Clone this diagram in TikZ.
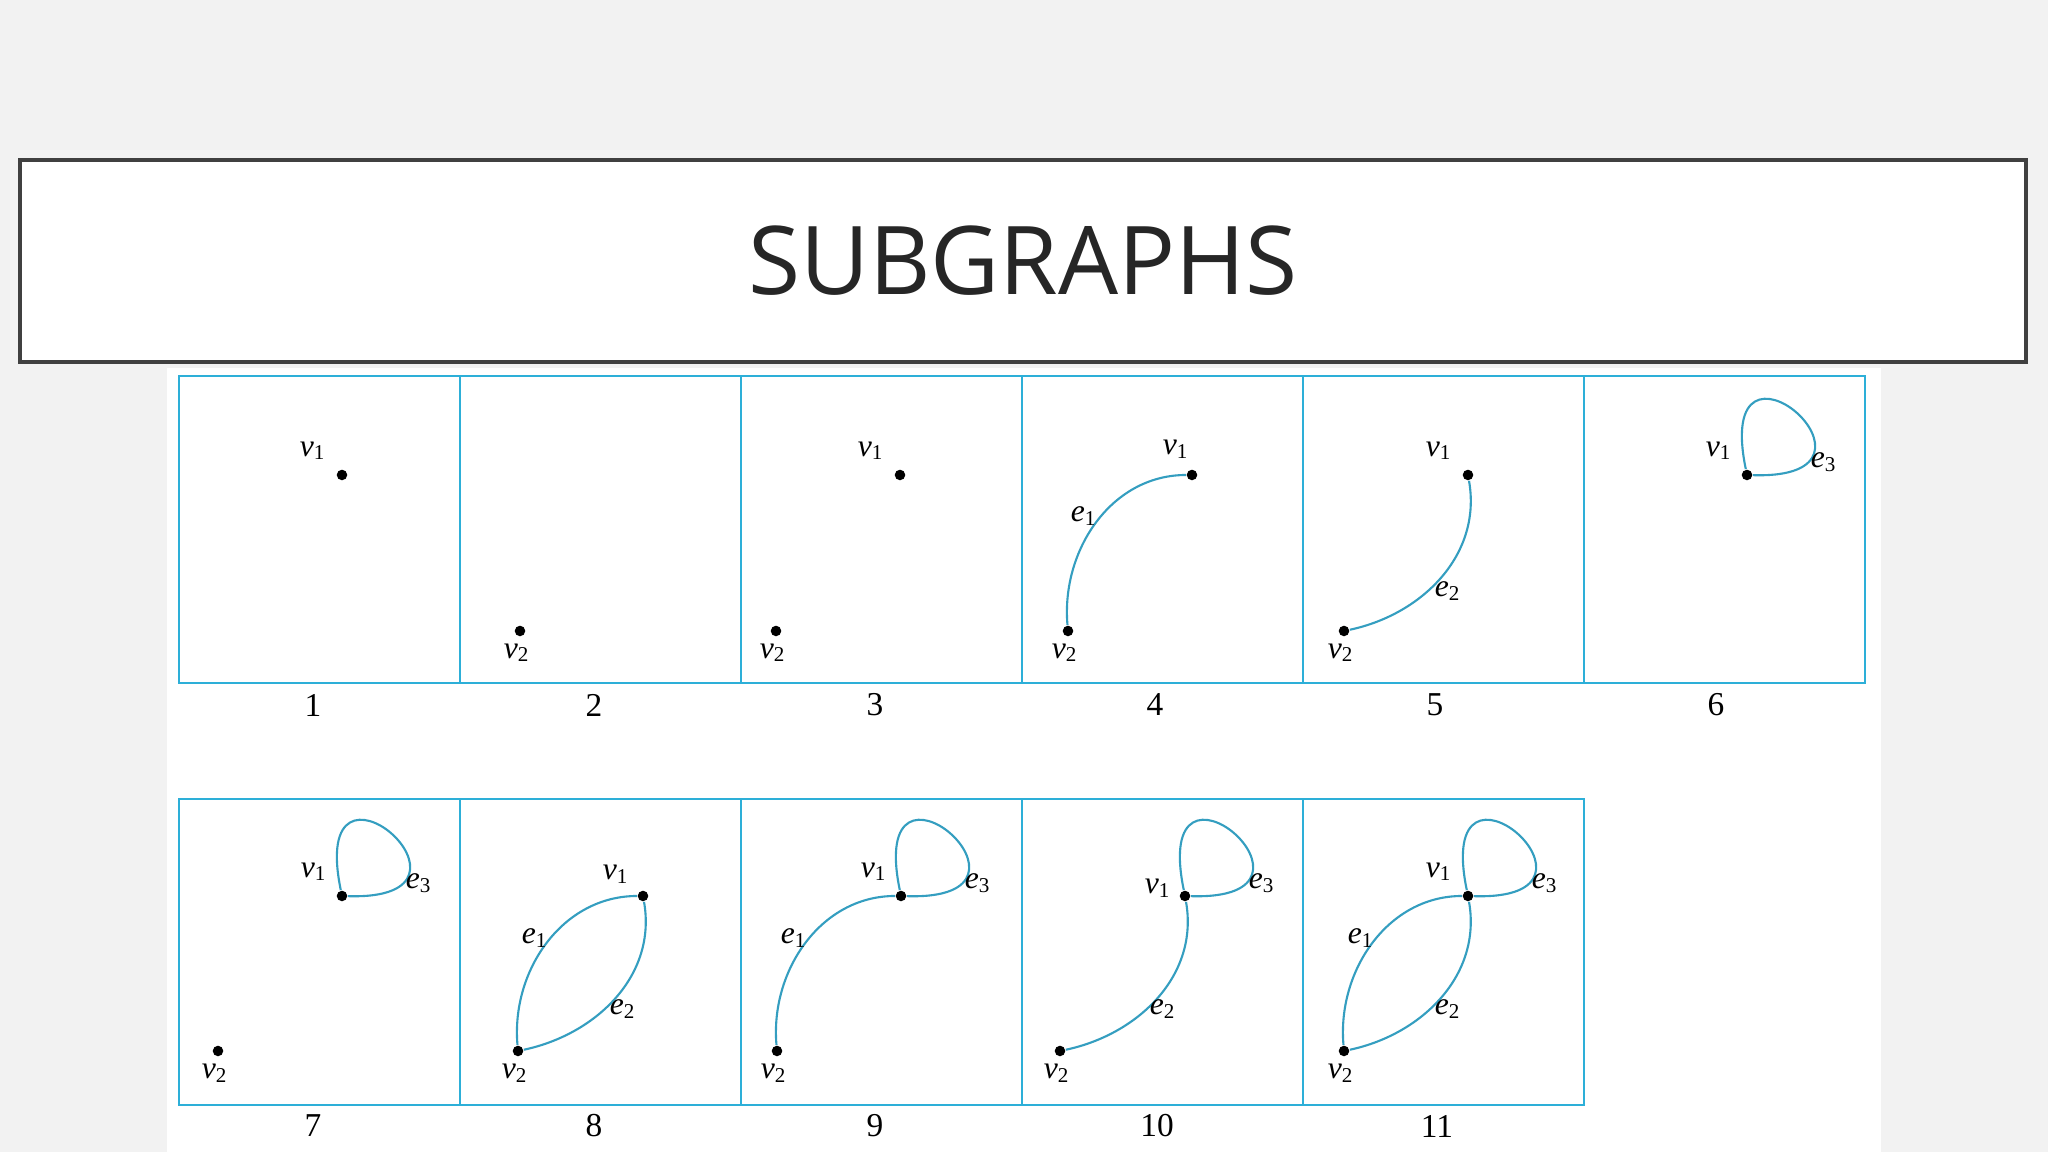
\documentclass[tikz,border=0pt]{standalone}
\usepackage{fontspec}
\setmainfont{Liberation Serif}
\newfontfamily\titlefont{Open Sans}
\definecolor{framec}{RGB}{45,175,216}
\definecolor{edgec}{RGB}{52,158,192}
\definecolor{boxc}{RGB}{64,64,64}
\definecolor{bgc}{RGB}{242,242,242}
\newcommand{\vlab}[1]{\textit{v}\textsubscript{#1}}
\newcommand{\elab}[1]{\textit{e}\textsubscript{#1}}
\tikzset{
  frame/.style={draw=framec,line width=0.8pt},
  dot/.style={circle,fill=black,inner sep=0pt,minimum size=3pt},
  edge/.style={draw=edgec,line width=0.6pt},
  lbl/.style={inner sep=0pt,font=\fontsize{9}{10}\selectfont},
  num/.style={inner sep=0pt,font=\fontsize{9.5}{10}\selectfont},
  titlebox/.style={draw=boxc,line width=1.4pt,fill=white,minimum width=20.06cm,
    minimum height=2.02cm,inner sep=0pt,text=black!85,font=\titlefont\fontsize{27}{30}\selectfont}
}
\begin{document}
\begin{tikzpicture}
\fill[bgc] (0,0) rectangle (20.48,11.52);
\useasboundingbox (0,0) rectangle (20.48,11.52);
\node[titlebox] (title) at (10.23,8.91) {SUBGRAPHS};
\fill[white] (1.67,0) rectangle (18.81,7.84);

% frames, top row
\draw[frame] (1.79,4.69) rectangle (4.60,7.76);
\draw[frame] (4.60,4.69) rectangle (7.41,7.76);
\draw[frame] (7.41,4.69) rectangle (10.22,7.76);
\draw[frame] (10.22,4.69) rectangle (13.03,7.76);
\draw[frame] (13.03,4.69) rectangle (15.84,7.76);
\draw[frame] (15.84,4.69) rectangle (18.65,7.76);
% frames, bottom row
\draw[frame] (1.79,0.47) rectangle (4.60,3.53);
\draw[frame] (4.60,0.47) rectangle (7.41,3.53);
\draw[frame] (7.41,0.47) rectangle (10.22,3.53);
\draw[frame] (10.22,0.47) rectangle (13.03,3.53);
\draw[frame] (13.03,0.47) rectangle (15.84,3.53);

% 1
\node[dot] (a1) at (3.42,6.77) {};
\node[lbl] (la1) at ([shift={(-0.29,0.24)}]a1) {\vlab{1}};
% 2
\node[dot] (b2) at (5.20,5.21) {};
\node[lbl] (lb2) at ([shift={(-0.03,-0.22)}]b2) {\vlab{2}};
% 3
\node[dot] (a3) at (9.00,6.77) {};
\node[dot] (b3) at (7.76,5.21) {};
\node[lbl] (la3) at ([shift={(-0.29,0.24)}]a3) {\vlab{1}};
\node[lbl] (lb3) at ([shift={(-0.03,-0.22)}]b3) {\vlab{2}};
% 4
\node[dot] (a4) at (11.92,6.77) {};
\node[dot] (b4) at (10.68,5.21) {};
\node[lbl] (la4) at ([shift={(-0.16,0.26)}]a4) {\vlab{1}};
\node[lbl] (lb4) at ([shift={(-0.03,-0.22)}]b4) {\vlab{2}};
\draw[edge] (b4) to[out=95,in=180] (a4);
\node[lbl] (le4) at ([shift={(0.16,1.15)}]b4) {\elab{1}};
% 5
\node[dot] (a5) at (14.68,6.77) {};
\node[dot] (b5) at (13.44,5.21) {};
\node[lbl] (la5) at ([shift={(-0.29,0.24)}]a5) {\vlab{1}};
\node[lbl] (lb5) at ([shift={(-0.03,-0.22)}]b5) {\vlab{2}};
\draw[edge] (b5) to[out=12,in=280] (a5);
\node[lbl] (le5) at ([shift={(1.04,0.40)}]b5) {\elab{2}};
% 6
\node[dot] (a6) at (17.47,6.77) {};
\node[lbl] (la6) at ([shift={(-0.28,0.24)}]a6) {\vlab{1}};
\draw[edge] (a6) .. controls +(-0.35,1.70) and +(1.65,-0.05) .. (a6);
\node[lbl] (le6) at ([shift={(0.77,0.13)}]a6) {\elab{3}};

% 7
\node[dot] (a7) at (3.42,2.56) {};
\node[dot] (b7) at (2.18,1.01) {};
\node[lbl] (la7) at ([shift={(-0.28,0.24)}]a7) {\vlab{1}};
\node[lbl] (lb7) at ([shift={(-0.03,-0.22)}]b7) {\vlab{2}};
\draw[edge] (a7) .. controls +(-0.35,1.70) and +(1.65,-0.05) .. (a7);
\node[lbl] (le7) at ([shift={(0.77,0.13)}]a7) {\elab{3}};
% 8
\node[dot] (a8) at (6.43,2.56) {};
\node[dot] (b8) at (5.18,1.01) {};
\node[lbl] (la8) at ([shift={(-0.27,0.22)}]a8) {\vlab{1}};
\node[lbl] (lb8) at ([shift={(-0.03,-0.22)}]b8) {\vlab{2}};
\draw[edge] (b8) to[out=95,in=180] (a8);
\draw[edge] (b8) to[out=12,in=280] (a8);
\node[lbl] (le8a) at ([shift={(0.17,1.13)}]b8) {\elab{1}};
\node[lbl] (le8b) at ([shift={(1.05,0.42)}]b8) {\elab{2}};
% 9
\node[dot] (a9) at (9.01,2.56) {};
\node[dot] (b9) at (7.77,1.01) {};
\node[lbl] (la9) at ([shift={(-0.27,0.24)}]a9) {\vlab{1}};
\node[lbl] (lb9) at ([shift={(-0.03,-0.22)}]b9) {\vlab{2}};
\draw[edge] (b9) to[out=95,in=180] (a9);
\draw[edge] (a9) .. controls +(-0.35,1.70) and +(1.65,-0.05) .. (a9);
\node[lbl] (le9a) at ([shift={(0.17,1.13)}]b9) {\elab{1}};
\node[lbl] (le9b) at ([shift={(0.77,0.13)}]a9) {\elab{3}};
% 10
\node[dot] (a10) at (11.85,2.56) {};
\node[dot] (b10) at (10.60,1.01) {};
\node[lbl] (la10) at ([shift={(-0.27,0.08)}]a10) {\vlab{1}};
\node[lbl] (lb10) at ([shift={(-0.03,-0.22)}]b10) {\vlab{2}};
\draw[edge] (b10) to[out=12,in=280] (a10);
\draw[edge] (a10) .. controls +(-0.35,1.70) and +(1.65,-0.05) .. (a10);
\node[lbl] (le10a) at ([shift={(1.03,0.42)}]b10) {\elab{2}};
\node[lbl] (le10b) at ([shift={(0.77,0.13)}]a10) {\elab{3}};
% 11
\node[dot] (a11) at (14.68,2.56) {};
\node[dot] (b11) at (13.44,1.01) {};
\node[lbl] (la11) at ([shift={(-0.29,0.24)}]a11) {\vlab{1}};
\node[lbl] (lb11) at ([shift={(-0.03,-0.22)}]b11) {\vlab{2}};
\draw[edge] (b11) to[out=95,in=180] (a11);
\draw[edge] (b11) to[out=12,in=280] (a11);
\draw[edge] (a11) .. controls +(-0.35,1.70) and +(1.65,-0.05) .. (a11);
\node[lbl] (le11a) at ([shift={(0.17,1.13)}]b11) {\elab{1}};
\node[lbl] (le11b) at ([shift={(1.04,0.42)}]b11) {\elab{2}};
\node[lbl] (le11c) at ([shift={(0.77,0.13)}]a11) {\elab{3}};

% panel numbers
\node[num] (n1) at (3.13,4.47) {1};
\node[num] (n2) at (5.94,4.47) {2};
\node[num] (n3) at (8.75,4.47) {3};
\node[num] (n4) at (11.55,4.47) {4};
\node[num] (n5) at (14.35,4.47) {5};
\node[num] (n6) at (17.16,4.47) {6};
\node[num] (n7) at (3.13,0.26) {7};
\node[num] (n8) at (5.94,0.26) {8};
\node[num] (n9) at (8.75,0.26) {9};
\node[num] (n10) at (11.57,0.26) {10};
\node[num] (n11) at (14.37,0.26) {11};
\end{tikzpicture}
\end{document}
